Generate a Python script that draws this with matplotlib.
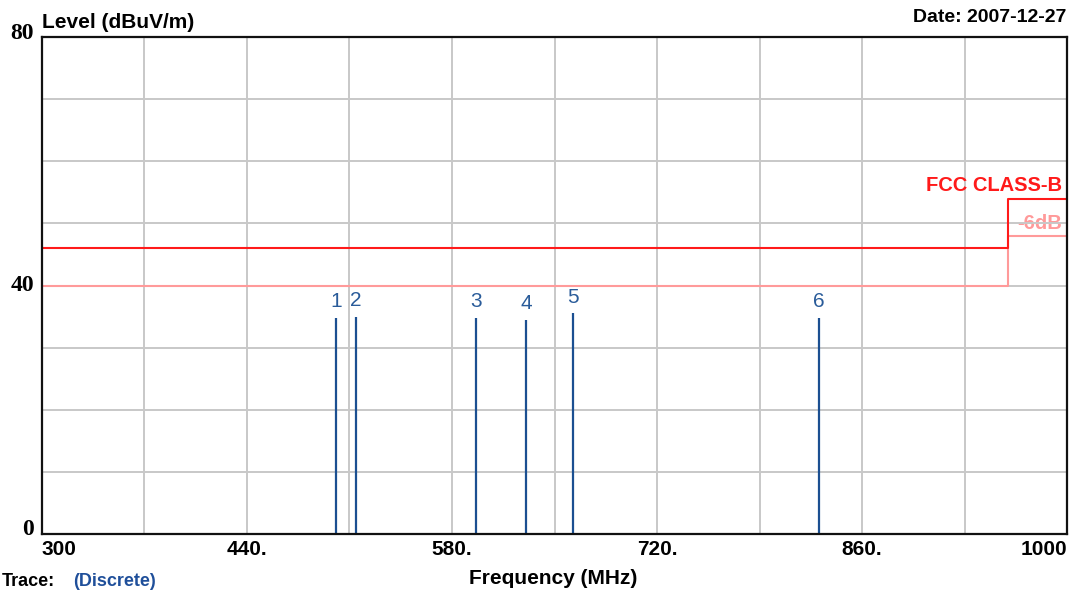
import matplotlib.pyplot as plt
import numpy as np

# limit lines (FCC class B and the -6 dB margin)
limit_freq = [300, 960, 1000]
limit_level = [46, 54, 54]
margin_level = [40, 48, 48]

# discrete peaks
peak_labels = ['1', '2', '3', '4', '5', '6']
peak_freq = [500.8, 514.6, 596.4, 630.6, 662.5, 830.7]
peak_level = [34.7, 35.0, 34.8, 34.5, 35.5, 34.7]

xticks = [300, 440, 580, 720, 860, 1000]
xtick_labels = ['300', '440.', '580.', '720.', '860.', '1000']
yticks = [0, 40, 80]
ytick_labels = ['0', '40', '80']

sans = 'Liberation Sans'
serif = 'Liberation Serif'
peak_col = '#1b4f91'
red = '#ff1a1a'
pink = '#ff9a9a'

fig = plt.figure(figsize=(10.87, 5.92), dpi=100)
ax = fig.add_axes([42/1087, 1 - 534/592, (1067-42)/1087, (534-37)/592])

ax.set_xlim(300, 1000)
ax.set_ylim(0, 80)

# grid every 70 MHz / 10 dB, labels drawn by hand below
ax.set_xticks(np.arange(300, 1001, 70))
ax.set_yticks(np.arange(0, 81, 10))
ax.set_xticklabels([])
ax.set_yticklabels([])
ax.grid(color='#c8c8c8', lw=1.4, zorder=1)
ax.tick_params(length=0)

for s in ax.spines.values():
    s.set_linewidth(1.6)
    s.set_color('#111111')
    s.set_zorder(5)

ax.plot(limit_freq, margin_level, drawstyle='steps-post', color=pink, lw=1.5, zorder=2)
ax.plot(limit_freq, limit_level, drawstyle='steps-post', color=red, lw=1.5, zorder=2)

ax.vlines(peak_freq, 0, peak_level, color=peak_col, lw=1.6, zorder=3)
for lab, f, lv in zip(peak_labels, peak_freq, peak_level):
    ax.annotate(lab, (f, lv), xytext=(0, 5), textcoords='offset points',
                ha='center', va='bottom', fontsize=15, color='#2a5c9a',
                family=sans)

ax.text(0.995, 54.6, 'FCC CLASS-B', transform=ax.get_yaxis_transform(),
        ha='right', va='bottom', color=red, fontsize=14.5, fontweight='bold', family=sans)
ax.text(0.995, 48.4, '-6dB', transform=ax.get_yaxis_transform(),
        ha='right', va='bottom', color=pink, fontsize=14.5, fontweight='bold', family=sans,
        zorder=0)

for t, lab in zip(xticks, xtick_labels):
    ha = 'left' if t == 300 else ('right' if t == 1000 else 'center')
    ax.text(t, -1.0, lab, ha=ha, va='top', fontsize=15, fontweight='bold', family=sans)
for t, lab in zip(yticks, ytick_labels):
    off = {0: 0.8, 40: 0.0, 80: 0.6}[t]
    ax.text(-0.008, t + off, lab, transform=ax.get_yaxis_transform(),
            ha='right', va='center', fontsize=17, fontweight='bold', family=serif)

fig.text(42/1087, 1 - 22/592, 'Level (dBuV/m)', ha='left', va='center',
         fontsize=15, fontweight='bold', family=sans)
fig.text(1066/1087, 1 - 18/592, 'Date: 2007-12-27', ha='right', va='center',
         fontsize=14, fontweight='bold', family=sans)
fig.text(553/1087, 1 - 578/592, 'Frequency (MHz)', ha='center', va='center',
         fontsize=15, fontweight='bold', family=sans)
fig.text(0.002, 1.5/592, 'Trace:', ha='left', va='bottom',
         fontsize=13, fontweight='bold', family=sans)
fig.text(73/1087, 1.5/592, '(Discrete)', ha='left', va='bottom',
         fontsize=13, fontweight='bold', family=sans, color='#1f4f9a')

fig.savefig('out.png', dpi=100)
